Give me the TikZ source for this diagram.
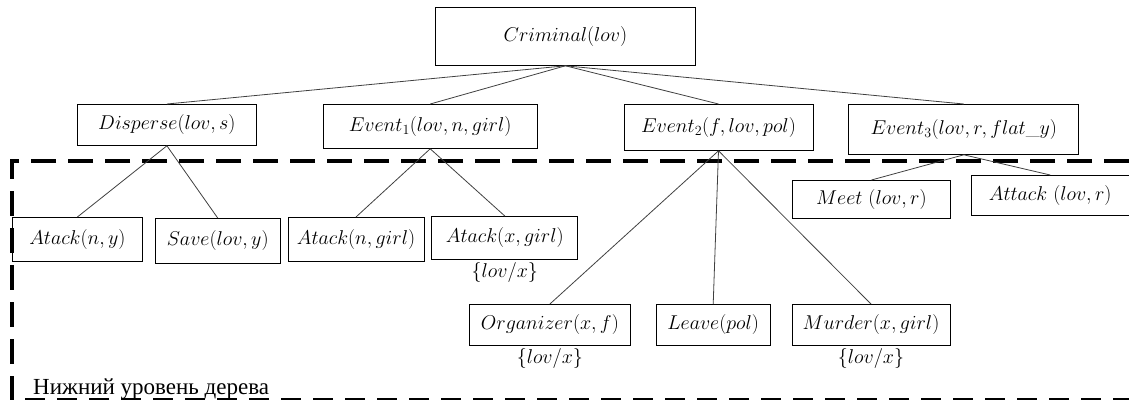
\RequirePackage{fix-cm}
\documentclass[tikz,border=0pt]{standalone}
\usepackage{fontspec}
\newfontfamily\cyrfont{Liberation Serif}
\usepackage{tikz}
\usetikzlibrary{positioning}

\begin{document}
\begin{tikzpicture}[x=1pt, y=-1pt, node distance=4pt, box/.style={draw,line width=0.8pt,inner sep=0pt,anchor=north west,font=\fontsize{20}{23}\selectfont}, subst/.style={inner sep=0pt,font=\fontsize{20}{23}\selectfont}, edge/.style={draw=black!75,line width=0.8pt}, level/.style={line width=3.5pt,dash pattern=on 25pt off 12pt}]
\useasboundingbox (0,0) rectangle (1129,400);
\draw[level] (1129,161) -- (12,161) -- (12,400);
\draw[line width=2.5pt, dash pattern=on 20pt off 12pt] (25,399) -- (1129,399);
\node[font=\cyrfont\fontsize{23}{26}\selectfont, anchor=base west, inner sep=0pt] (lvl) at (33,394) {Нижний уровень дерева};
\node[box, minimum width=260pt, minimum height=58pt] (crim) at (435,7) {$Criminal(lov)$};
\node[box, minimum width=179pt, minimum height=41pt] (dis) at (77,104) {$Disperse(lov,s)$};
\draw[edge] (crim.south) -- (dis.north);
\node[box, minimum width=214pt, minimum height=44pt, xshift=66pt] (ev1) at (dis.north east) {$Event_1(lov,n,girl)$};
\draw[edge] (crim.south) -- (ev1.north);
\node[box, minimum width=189pt, minimum height=46pt, xshift=86pt] (ev2) at (ev1.north east) {$Event_2(f,lov,pol)$};
\draw[edge] (crim.south) -- (ev2.north);
\node[box, minimum width=230pt, minimum height=50pt, xshift=35pt] (ev3) at (ev2.north east) {$Event_3(lov,r,flat\_y)$};
\draw[edge] (crim.south) -- (ev3.north);
\node[box, minimum width=130pt, minimum height=44pt] (any) at (12,217) {$Atack(n,y)$};
\draw[edge] (dis.south) -- (any.north);
\node[box, minimum width=125pt, minimum height=45pt, xshift=12pt, yshift=-1pt] (sav) at (any.north east) {$Save(lov,y)$};
\draw[edge] (dis.south) -- (sav.north);
\node[box, minimum width=136pt, minimum height=44pt, xshift=7pt, yshift=1pt] (ang) at (sav.north east) {$Atack(n,girl)$};
\draw[edge] (ev1.south) -- (ang.north);
\node[box, minimum width=146pt, minimum height=43pt, xshift=7pt, yshift=1pt] (axg) at (ang.north east) {$Atack(x,girl)$};
\draw[edge] (ev1.south) -- (axg.north);
\node[subst, below=2pt of axg] (saxg) {$\{lov/x\}$};
\node[box, minimum width=161pt, minimum height=41pt] (org) at (469,304) {$Organizer(x,f)$};
\draw[edge] (ev2.south) -- (org.north);
\node[subst, below=2pt of org] (sorg) {$\{lov/x\}$};
\node[box, minimum width=114pt, minimum height=41pt, xshift=25pt] (lea) at (org.north east) {$Leave(pol)$};
\draw[edge] (ev2.south) -- (lea.north);
\node[box, minimum width=158pt, minimum height=41pt, xshift=21pt] (mur) at (lea.north east) {$Murder(x,girl)$};
\draw[edge] (ev2.south) -- (mur.north);
\node[subst, below=2pt of mur] (smur) {$\{lov/x\}$};
\node[box, minimum width=158pt, minimum height=38pt] (meet) at (792,180) {$Meet\ (lov,r)$};
\draw[edge] (ev3.south) -- (meet.north);
\node[box, minimum width=158pt, minimum height=40pt, xshift=20pt, yshift=5pt] (att) at (meet.north east) {$Attack\ (lov,r)$};
\draw[edge] (ev3.south) -- (att.north);
\end{tikzpicture}
\end{document}
